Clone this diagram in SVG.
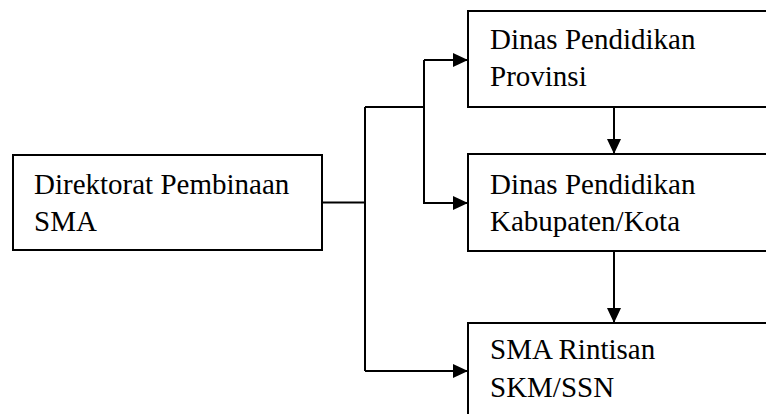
<svg xmlns="http://www.w3.org/2000/svg" width="766" height="414" viewBox="0 0 766 414">
<style>
.box{fill:#fff;stroke:#000;stroke-width:2}
.lbl{font-family:"Liberation Serif","Times New Roman",serif;font-size:29px;fill:#000}
.con{fill:none;stroke:#000;stroke-width:2}
</style>
<defs>
<marker id="ah" markerUnits="userSpaceOnUse" markerWidth="15" markerHeight="14" refX="15" refY="7" orient="auto">
<path d="M0,0 L15,7 L0,14 Z" fill="#000"/>
</marker>
</defs>
<rect width="766" height="414" fill="#fff"/>
<g id="connectors">
<path class="con" d="M322,202.5 H365"/>
<path class="con" d="M365,107 V371"/>
<path class="con" d="M365,107 H424"/>
<path class="con" d="M424,107 V60"/>
<path class="con" d="M424,60 H468" marker-end="url(#ah)"/>
<path class="con" d="M424,107 V203 H468" marker-end="url(#ah)"/>
<path class="con" d="M365,371 H468" marker-end="url(#ah)"/>
<path class="con" d="M614,107 V154" marker-end="url(#ah)"/>
<path class="con" d="M614,251 V323" marker-end="url(#ah)"/>
</g>
<g id="direktorat">
<rect class="box" x="13" y="155" width="309" height="95"/>
<text class="lbl" x="34" y="193.5">Direktorat Pembinaan</text>
<text class="lbl" x="34" y="231">SMA</text>
</g>
<g id="dinas-provinsi">
<rect class="box" x="468" y="11" width="320" height="96"/>
<text class="lbl" x="490" y="48.5">Dinas Pendidikan</text>
<text class="lbl" x="490" y="86">Provinsi</text>
</g>
<g id="dinas-kabkota">
<rect class="box" x="468" y="154" width="320" height="97"/>
<text class="lbl" x="490" y="193.5">Dinas Pendidikan</text>
<text class="lbl" x="490" y="231">Kabupaten/Kota</text>
</g>
<g id="sma-rintisan">
<rect class="box" x="468" y="323" width="320" height="110"/>
<text class="lbl" x="490" y="359">SMA Rintisan</text>
<text class="lbl" x="490" y="397">SKM/SSN</text>
</g>
</svg>
